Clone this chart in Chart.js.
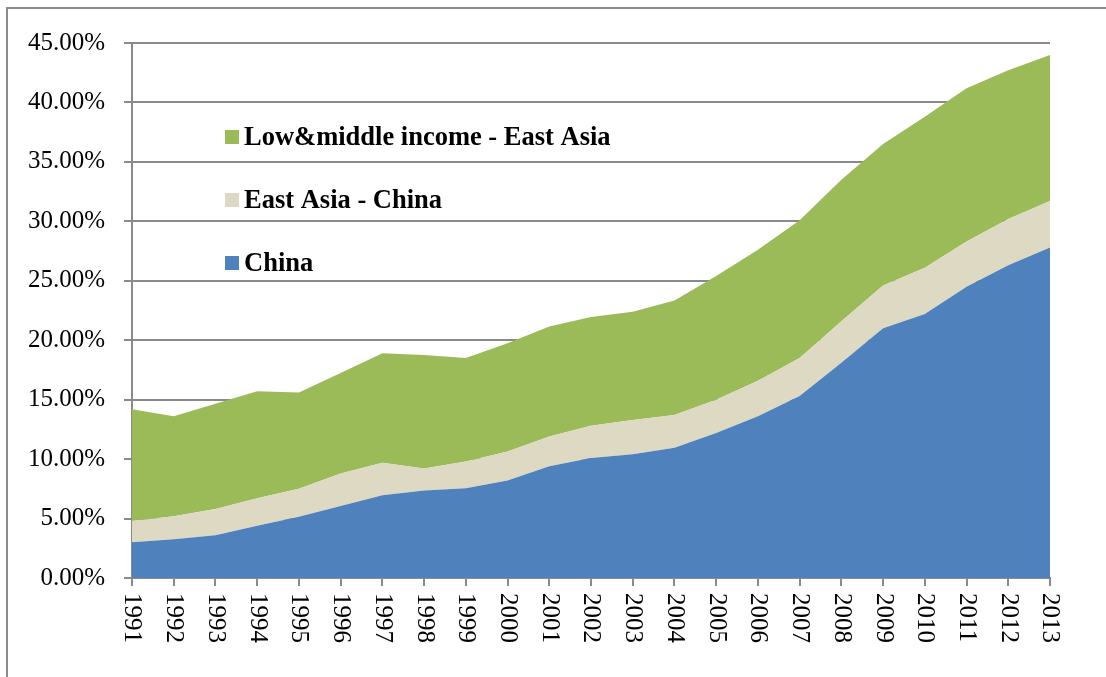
<!DOCTYPE html>
<html lang="en">
<head>
  <meta charset="UTF-8" />
  <title>China / East Asia share</title>
  <script src="https://cdn.jsdelivr.net/npm/chart.js"></script>
  <style>
    body {
      margin: 0;
      background: #fff;
      overflow: hidden;
    }
    #frame {
      position: absolute;
      left: 6px;
      top: 7px;
      width: 1300px;
      height: 900px;
      border-left: 2px solid #8c8c8c;
      border-top: 2px solid #8c8c8c;
    }
    canvas {
      position: absolute;
      left: 0;
      top: 0;
    }
  </style>
</head>
<body>
  <div id="frame"></div>
  <canvas id="grafico" width="1106" height="677"></canvas>

  <script>
    const anos = ["1991", "1992", "1993", "1994", "1995", "1996", "1997", "1998", "1999", "2000",
      "2001", "2002", "2003", "2004", "2005", "2006", "2007", "2008", "2009", "2010",
      "2011", "2012", "2013"];

    // percent values, each series stacked on the one below
    const china = [3.0, 3.25, 3.6, 4.4, 5.15, 6.05, 6.95, 7.35, 7.55, 8.2,
      9.4, 10.1, 10.4, 10.95, 12.2, 13.6, 15.3, 18.1, 21.0, 22.2,
      24.5, 26.3, 27.8];
    const eastAsiaMenosChina = [1.8, 1.95, 2.2, 2.3, 2.35, 2.75, 2.75, 1.85, 2.25, 2.45,
      2.5, 2.7, 2.9, 2.75, 2.8, 3.0, 3.2, 3.5, 3.6, 3.9,
      3.8, 3.9, 3.9];
    const lowMiddleMenosEastAsia = [9.4, 8.4, 8.85, 9.0, 8.1, 8.45, 9.2, 9.55, 8.7, 9.1,
      9.25, 9.15, 9.1, 9.65, 10.4, 11.0, 11.6, 11.9, 11.9, 12.7,
      12.9, 12.5, 12.3];

    const yTicks = [0, 5, 10, 15, 20, 25, 30, 35, 40, 45];

    const cinza = "#8a8a8a";
    const fonte = "'Liberation Serif', 'Times New Roman', serif";

    // legend inside the plot, top series first
    const legendaDentro = {
      id: "legendaDentro",
      afterDraw(chart) {
        const ctx = chart.ctx;
        const area = chart.chartArea;
        const sets = chart.data.datasets.slice().reverse();
        ctx.save();
        ctx.font = "bold 26.5px " + fonte;
        ctx.textBaseline = "alphabetic";
        ctx.textAlign = "left";
        sets.forEach((ds, i) => {
          const y = area.top + 87 + i * 63;
          ctx.fillStyle = ds.backgroundColor;
          ctx.fillRect(area.left + 93, y, 14, 14);
          ctx.fillStyle = "#000";
          ctx.fillText(ds.label, area.left + 112, y + 15);
        });
        ctx.restore();
      }
    };

    // year labels turned clockwise (read top to bottom)
    const anosGirados = {
      id: "anosGirados",
      afterDraw(chart) {
        const ctx = chart.ctx;
        const x = chart.scales.x;
        ctx.save();
        ctx.font = "25px " + fonte;
        ctx.fillStyle = "#000";
        ctx.textAlign = "left";
        ctx.textBaseline = "middle";
        x.ticks.forEach((t, i) => {
          ctx.save();
          ctx.translate(x.getPixelForTick(i), x.top + 15);
          ctx.rotate(Math.PI / 2);
          ctx.fillText(chart.data.labels[i], 0, 0);
          ctx.restore();
        });
        ctx.restore();
      }
    };

    new Chart(document.getElementById("grafico").getContext("2d"), {
      type: "line",
      data: {
        labels: anos,
        datasets: [
          {
            label: "China",
            data: china,
            backgroundColor: "#4f81bd",
            fill: "origin"
          },
          {
            label: "East Asia - China",
            data: eastAsiaMenosChina,
            backgroundColor: "#ddd9c3",
            fill: "-1"
          },
          {
            label: "Low&middle income - East Asia",
            data: lowMiddleMenosEastAsia,
            backgroundColor: "#9bbb59",
            fill: "-1"
          }
        ]
      },
      options: {
        responsive: false,
        devicePixelRatio: 1,
        animation: false,
        layout: { padding: { top: 43, right: 56, bottom: 0, left: 0 } },
        elements: {
          point: { radius: 0, hoverRadius: 0 },
          line: { borderWidth: 0, tension: 0 }
        },
        plugins: {
          legend: { display: false },
          tooltip: { enabled: false }
        },
        scales: {
          x: {
            offset: false,
            afterFit: s => { s.height = 99; },
            grid: {
              drawOnChartArea: false,
              tickLength: 8,
              color: cinza,
              lineWidth: 2
            },
            border: { color: cinza, width: 2 },
            ticks: {
              minRotation: 90,
              maxRotation: 90,
              autoSkip: false,
              color: "rgba(0,0,0,0)",
              font: { family: fonte, size: 25 }
            }
          },
          y: {
            stacked: true,
            min: 0,
            max: 45,
            afterFit: s => { s.width = 132; },
            afterBuildTicks: s => { s.ticks = yTicks.map(v => ({ value: v })); },
            grid: {
              color: cinza,
              lineWidth: 2,
              tickLength: 8
            },
            border: { color: cinza, width: 2 },
            ticks: {
              padding: 19,
              color: "#000",
              font: { family: fonte, size: 25 },
              callback: v => v.toFixed(2) + "%"
            }
          }
        }
      },
      plugins: [legendaDentro, anosGirados]
    });
  </script>
</body>
</html>
